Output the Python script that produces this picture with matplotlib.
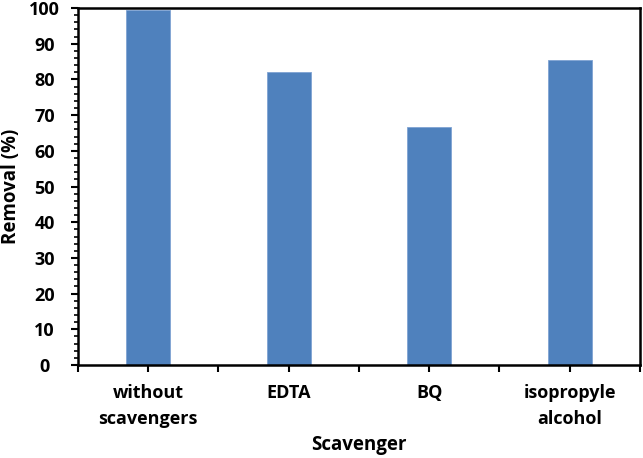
import numpy as np
import matplotlib.pyplot as plt
from matplotlib.ticker import MultipleLocator

categories = ["without\nscavengers", "EDTA", "BQ", "isopropyle\nalcohol"]
removal = [99.4, 82.1, 66.6, 85.4]

plt.rcParams['font.family'] = ['Open Sans', 'DejaVu Sans']
plt.rcParams['font.weight'] = 'bold'

fig = plt.figure(figsize=(6.43, 4.58), dpi=100)
ax = fig.add_axes([0.1213, 0.203, 0.874, 0.7795])

x = np.arange(len(categories))
ax.bar(x, removal, width=0.31, color='#4F81BD', edgecolor='#7FA3D3', linewidth=0.6)

ax.set_xlim(-0.5, len(categories) - 0.5)
ax.set_ylim(0, 100)
ax.yaxis.set_major_locator(MultipleLocator(10))
ax.yaxis.set_minor_locator(MultipleLocator(2))
ax.set_xticks(x)
ax.set_xticklabels(categories, fontsize=13, fontweight='bold', linespacing=1.55)
ax.set_xticks(np.arange(-0.5, len(categories)), minor=True)
for lab in ax.get_yticklabels():
    lab.set_fontsize(13)
    lab.set_fontweight('bold')
    lab.set_horizontalalignment('center')

ax.tick_params(axis='y', which='major', direction='out', length=5, width=1.5, pad=19)
ax.tick_params(axis='y', which='minor', direction='out', length=3, width=1.2)
ax.tick_params(axis='x', which='major', direction='out', length=5, width=1.5, pad=9)
ax.tick_params(axis='x', which='minor', direction='out', length=5, width=1.5)

for s in ax.spines.values():
    s.set_linewidth(1.8)

ax.set_xlabel("Scavenger", fontsize=13.5, fontweight='bold', va='center')
ax.set_ylabel("Removal (%)", fontsize=13.5, fontweight='bold', va='center')
ax.xaxis.set_label_coords(0.5, -0.225)
ax.yaxis.set_label_coords(-0.12, 0.5)

fig.savefig("out.png", dpi=100)
